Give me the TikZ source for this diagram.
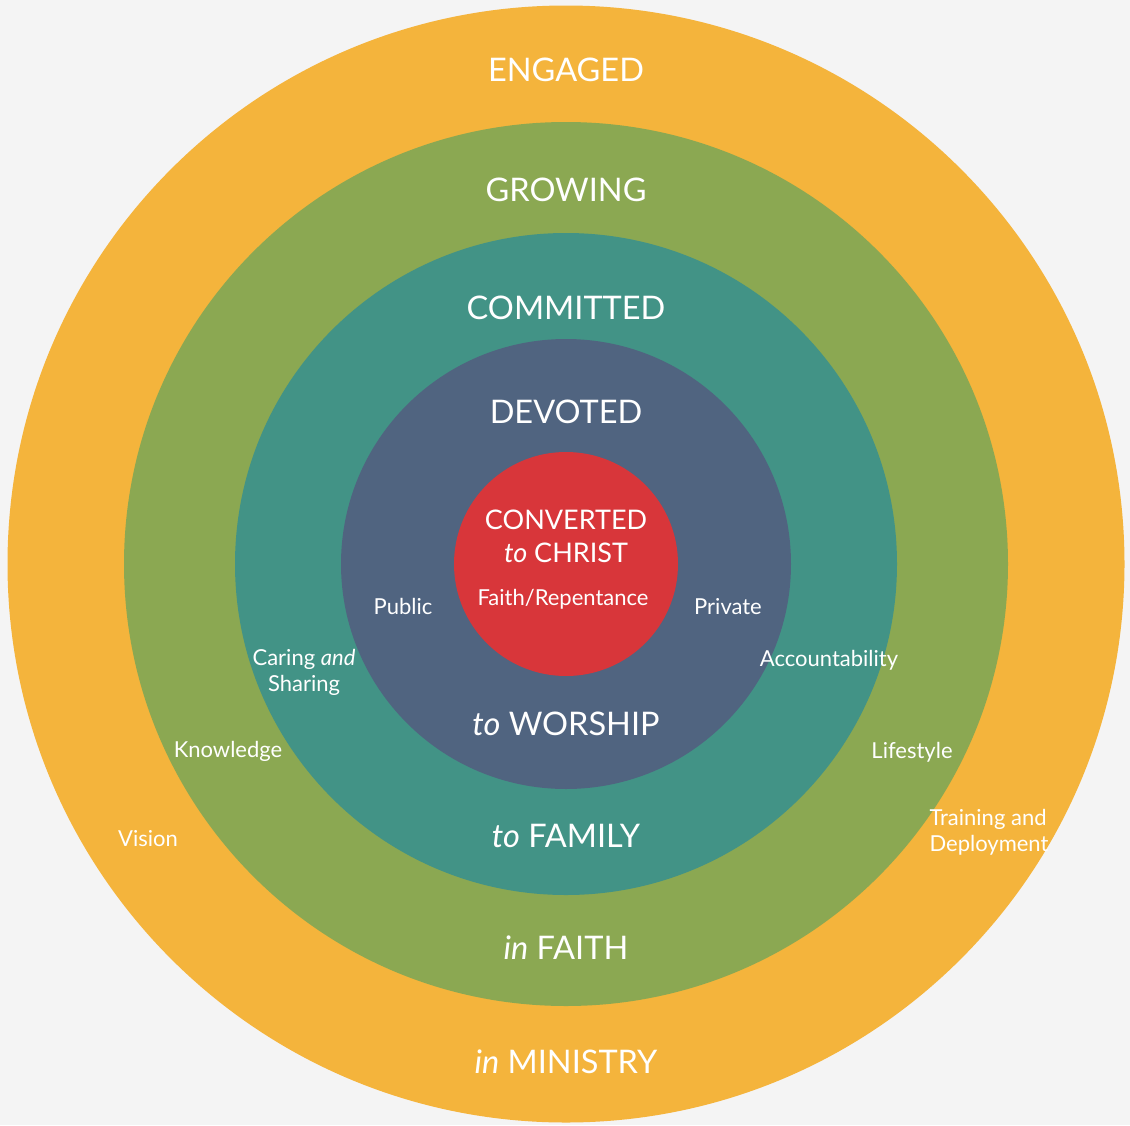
\documentclass[tikz,border=0pt]{standalone}
\usepackage{fontspec}
\setmainfont{Lato}
\usetikzlibrary{positioning}

\definecolor{paper}{HTML}{F4F4F4}
\definecolor{engagedc}{HTML}{F4B43C}
\definecolor{growingc}{HTML}{8BA852}
\definecolor{committedc}{HTML}{429386}
\definecolor{devotedc}{HTML}{506480}
\definecolor{convertedc}{HTML}{D8363A}

\begin{document}
\begin{tikzpicture}[x=1pt,y=-1pt,
    ring/.style={circle, inner sep=0pt, minimum size=#1},
    title/.style={text=white, anchor=base, font=\fontsize{32.5}{38}\selectfont},
    core/.style={text=white, anchor=base, font=\fontsize{27}{32}\selectfont},
    tag/.style={text=white, anchor=base, align=center, font=\fontsize{22}{25.5}\selectfont}]
    % Background sheet
    \fill[paper] (0,0) rectangle (1130,1125);
    \coordinate (c) at (566,564);

    % Rings, from the outside in
    \node[ring=1117pt, fill=engagedc] (engaged) at (c) {};
    \node[ring=884pt, fill=growingc] (growing) at (c) {};
    \node[ring=662pt, fill=committedc] (committed) at (c) {};
    \node[ring=450pt, fill=devotedc] (devoted) at (c) {};
    \node[ring=224pt, fill=convertedc] (converted) at (c) {};

    % Ring names
    \node[title] (engagedtop) at (566,81) {ENGAGED};
    \node[title] (growingtop) at (566,201) {GROWING};
    \node[title] (committedtop) at (566,319) {COMMITTED};
    \node[title] (devotedtop) at (566,423) {DEVOTED};
    \node[core] (convertedtop) at (566,529) {CONVERTED};
    \node[core] (christ) at (566,562) {\textit{to} CHRIST};
    \node[tag] (faith) at (563,605) {Faith/Repentance};

    % Bottom phrases
    \node[title] (worship) at (566,735) {\textit{to} WORSHIP};
    \node[title] (family) at (566,847) {\textit{to} FAMILY};
    \node[title] (infaith) at (566,959) {\textit{in} FAITH};
    \node[title] (ministry) at (566,1073) {\textit{in} MINISTRY};

    % Side words
    \node[tag] (public) at (403,614) {Public};
    \node[tag] (private) at (728,614) {Private};
    \node[tag] (caring) at (304,691) {Caring \textit{and}\\Sharing};
    \node[tag] (account) at (829,666) {Accountability};
    \node[tag] (knowledge) at (228,757) {Knowledge};
    \node[tag] (lifestyle) at (912,758) {Lifestyle};
    \node[tag] (vision) at (148,846) {Vision};
    \node[tag, anchor=base west, align=left] (training) at (926,851) {Training and\\Deployment};
\end{tikzpicture}
\end{document}
